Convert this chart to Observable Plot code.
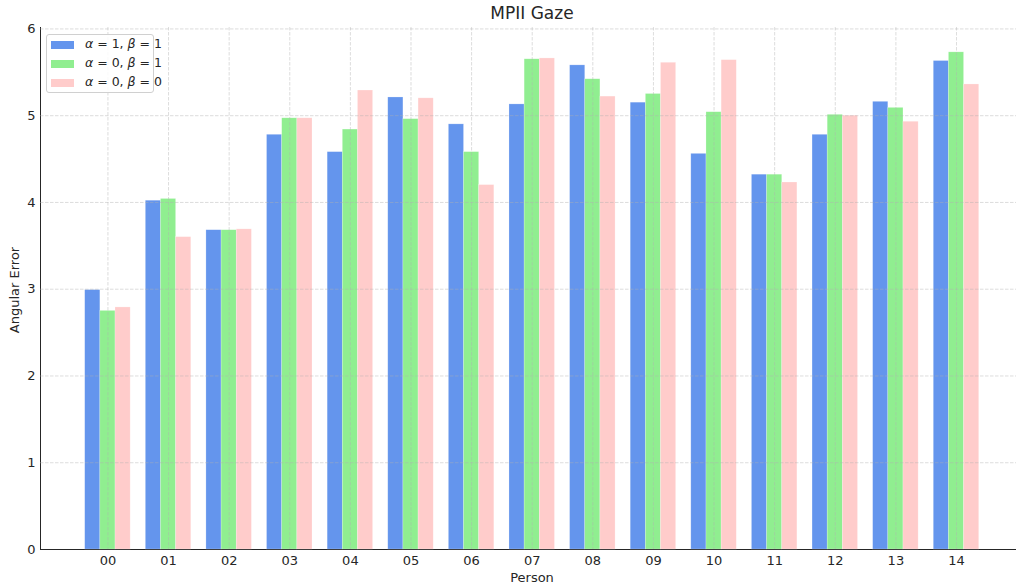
<!DOCTYPE html>
<html>
<head>
<meta charset="utf-8">
<script src="https://cdn.jsdelivr.net/npm/d3@7"></script>
<script src="https://cdn.jsdelivr.net/npm/@observablehq/plot@0.6"></script>
<style>
  html, body { margin: 0; padding: 0; background: white; }
  #wrap { position: relative; width: 1016px; height: 584px; font-family: "DejaVu Sans", sans-serif; color: #262626; overflow: hidden; }
  .title { position: absolute; left: 0; width: 1064px; top: 3px; text-align: center; font-size: 17px; }
  .ylabel { position: absolute; left: 14px; top: 290px; transform: translate(-50%, -50%) rotate(-90deg); font-size: 13px; white-space: nowrap; }
  .xlabel { position: absolute; left: 532px; top: 570px; transform: translateX(-50%); font-size: 13px; }
  .legend { position: absolute; left: 46px; top: 34px; width: 106px; height: 57px; border: 1px solid #d0d0d0; border-radius: 3px; background: rgba(255,255,255,0.85); font-size: 12.5px; }
  .legend .row { position: absolute; left: 0; height: 19px; width: 100%; }
  .legend .sw { position: absolute; left: 4px; top: 6px; width: 23px; height: 8px; }
  .legend .lab { position: absolute; left: 38px; top: 1px; white-space: nowrap; }
</style>
</head>
<body>
<div id="wrap"></div>
<script>
const persons = ["00","01","02","03","04","05","06","07","08","09","10","11","12","13","14"];
const seriesNames = ["α = 1, β = 1", "α = 0, β = 1", "α = 0, β = 0"];
const seriesHtml = ["<i>α</i> = 1, <i>β</i> = 1", "<i>α</i> = 0, <i>β</i> = 1", "<i>α</i> = 0, <i>β</i> = 0"];
const colors = ["#6495ED", "#90EE90", "#FFCCCB"];
const a1b1 = [2.99, 4.02, 3.68, 4.78, 4.58, 5.21, 4.90, 5.13, 5.58, 5.15, 4.56, 4.32, 4.78, 5.16, 5.63];
const a0b1 = [2.75, 4.04, 3.68, 4.97, 4.84, 4.96, 4.58, 5.65, 5.42, 5.25, 5.04, 4.32, 5.01, 5.09, 5.73];
const a0b0 = [2.79, 3.60, 3.69, 4.97, 5.29, 5.20, 4.20, 5.66, 5.22, 5.61, 5.64, 4.23, 5.00, 4.93, 5.36];
const yTicks = [0, 1, 2, 3, 4, 5, 6];
const yTickLabels = ["0", "1", "2", "3", "4", "5", "6"];

const seriesValues = [a1b1, a0b1, a0b0];
const barWidth = 0.25;
const rows = [];
seriesValues.forEach((vals, s) => {
  vals.forEach((v, i) => {
    const c = i + (s - 1) * barWidth;
    rows.push({person: persons[i], series: seriesNames[s], s, x1: c - barWidth / 2, x2: c + barWidth / 2, value: v});
  });
});
const idx = persons.map((_, i) => i);
const yMax = d3.max(rows, d => d.value) * 1.05;

const chart = Plot.plot({
  width: 1016,
  height: 584,
  marginLeft: 40,
  marginRight: 0,
  marginTop: 27,
  marginBottom: 35,
  style: {fontFamily: "DejaVu Sans, sans-serif", fontSize: "13px", color: "#262626", background: "white", overflow: "visible"},
  x: {domain: [-1.1125, 14.99], ticks: idx, tickFormat: i => persons[i], tickSize: 0, tickPadding: 6, label: null, line: true},
  y: {domain: [0, yMax], ticks: yTicks, tickFormat: t => yTickLabels[yTicks.indexOf(t)], tickSize: 0, tickPadding: 5, label: null, line: true},
  color: {domain: seriesNames, range: colors},
  marks: [
    Plot.rectY(rows, {x1: "x1", x2: "x2", y: "value", fill: "series", stroke: "white", strokeOpacity: 0.35, strokeWidth: 0.6}),
    Plot.ruleX(idx, {stroke: "#b0b0b0", strokeOpacity: 0.55, strokeDasharray: "3.5,1.5", strokeWidth: 0.8}),
    Plot.ruleY(yTicks.filter(t => t > 0), {stroke: "#b0b0b0", strokeOpacity: 0.55, strokeDasharray: "3.5,1.5", strokeWidth: 0.8})
  ]
});

const wrap = document.getElementById("wrap");
wrap.appendChild(chart);

const title = document.createElement("div");
title.className = "title";
title.textContent = "MPII Gaze";
wrap.appendChild(title);

const yl = document.createElement("div");
yl.className = "ylabel";
yl.textContent = "Angular Error";
wrap.appendChild(yl);

const xl = document.createElement("div");
xl.className = "xlabel";
xl.textContent = "Person";
wrap.appendChild(xl);

const leg = document.createElement("div");
leg.className = "legend";
seriesNames.forEach((n, s) => {
  const r = document.createElement("div");
  r.className = "row";
  r.style.top = (s * 19) + "px";
  r.innerHTML = `<span class="sw" style="background:${colors[s]}"></span><span class="lab">${seriesHtml[s]}</span>`;
  leg.appendChild(r);
});
wrap.appendChild(leg);
</script>
</body>
</html>
